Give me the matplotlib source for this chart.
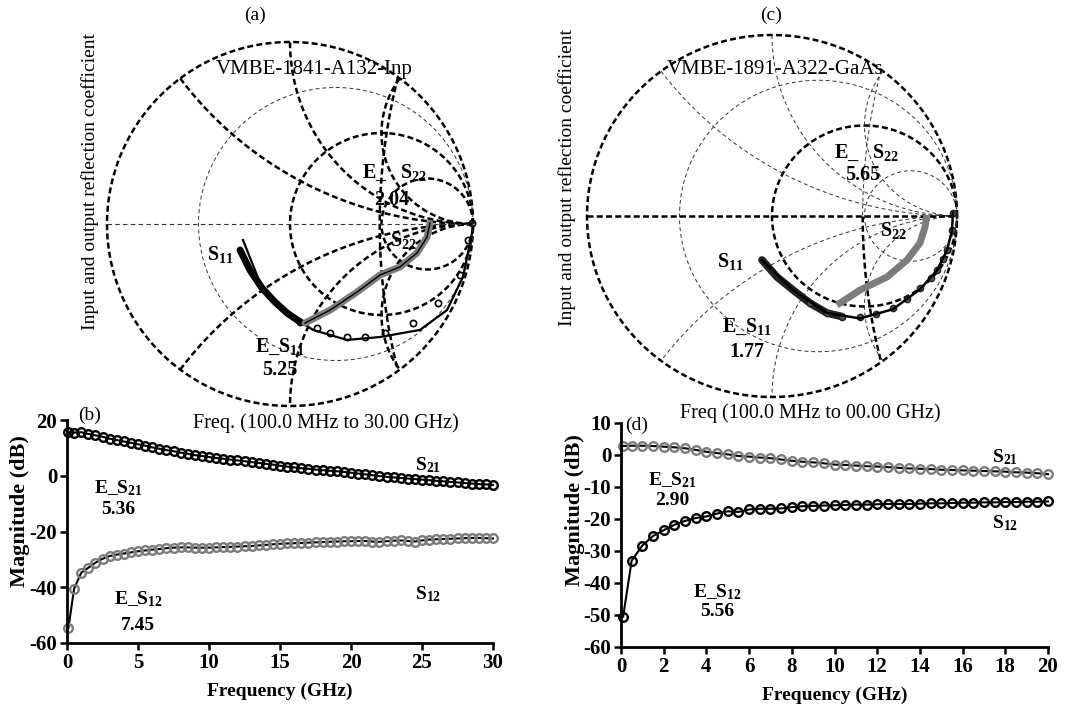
import numpy as np
import matplotlib.pyplot as plt

plt.rcParams['font.family'] = 'serif'
plt.rcParams['font.serif'] = ['Liberation Serif', 'DejaVu Serif']
plt.rcParams['mathtext.fontset'] = 'custom'
plt.rcParams['mathtext.rm'] = 'Liberation Serif'
plt.rcParams['mathtext.bf'] = 'Liberation Serif:bold'
plt.rcParams['mathtext.default'] = 'bf'
plt.rcParams['axes.unicode_minus'] = False

GRAY = '#7c7c7c'

# ---- Smith chart (a): InP device, normalized reflection coefficient ----
s11a_re = [-0.273, -0.219, -0.153, -0.082, -0.016, 0.055, 0.148, 0.219, 0.311, 0.410, 0.519, 0.672, 0.809, 0.929, 0.973, 0.995]
s11a_im = [-0.143, -0.253, -0.352, -0.429, -0.489, -0.538, -0.571, -0.599, -0.621, -0.621, -0.599, -0.544, -0.434, -0.280, -0.088, 0.005]
s11a_fit_re = [-0.257, -0.148, -0.016, 0.126, 0.311, 0.492, 0.710, 0.858, 0.945, 0.995]
s11a_fit_im = [-0.088, -0.363, -0.489, -0.582, -0.637, -0.621, -0.582, -0.473, -0.291, -0.049]
s22a_re = [0.082, 0.219, 0.366, 0.492, 0.601, 0.694, 0.749, 0.765]
s22a_im = [-0.544, -0.473, -0.374, -0.280, -0.236, -0.159, -0.071, 0.005]

# ---- Smith chart (c): GaAs device ----
s11c_re = [-0.054, 0.027, 0.114, 0.205, 0.297, 0.380, 0.476, 0.560, 0.654, 0.730, 0.800, 0.862, 0.892, 0.925, 0.946, 0.973, 0.978]
s11c_im = [-0.243, -0.337, -0.409, -0.481, -0.536, -0.556, -0.558, -0.540, -0.508, -0.460, -0.398, -0.340, -0.298, -0.236, -0.188, -0.077, 0.017]
s11c_fit_re = [-0.054, 0.114, 0.297, 0.476, 0.654, 0.800, 0.892, 0.946, 0.973, 0.978]
s11c_fit_im = [-0.243, -0.409, -0.536, -0.566, -0.515, -0.405, -0.300, -0.190, -0.080, 0.017]
s22c_re = [0.351, 0.476, 0.622, 0.730, 0.800, 0.827, 0.838]
s22c_im = [-0.492, -0.409, -0.337, -0.243, -0.149, -0.061, 0.006]

# ---- (b) magnitude vs frequency, InP ----
freq_b = [0.1] + list(np.arange(0.5, 30.01, 0.5))
s21_b = [15.6, 15.5, 15.6, 15.0, 14.5, 14.0, 13.3, 12.8, 12.3, 11.8, 11.3,
         10.8, 10.2, 9.7, 9.2, 8.8, 8.3, 7.9, 7.4, 7.1, 6.7,
         6.4, 6.1, 5.8, 5.5, 5.2, 4.9, 4.6, 4.3, 4.0, 3.6,
         3.3, 3.0, 2.7, 2.5, 2.2, 2.0, 1.8, 1.6, 1.4, 1.1,
         0.8, 0.5, 0.2, -0.1, -0.4, -0.6, -0.8, -1.0, -1.2, -1.4,
         -1.6, -1.8, -2.0, -2.2, -2.4, -2.6, -2.8, -3.0, -3.1, -3.3]
s12_b = [-54.6, -40.5, -34.8, -33.0, -31.2, -29.8, -28.8, -28.3, -27.9, -27.5, -27.1,
         -26.8, -26.5, -26.3, -26.0, -25.8, -25.7, -25.7, -25.8, -25.8, -25.8,
         -25.7, -25.6, -25.5, -25.4, -25.3, -25.2, -25.0, -24.8, -24.6, -24.4,
         -24.3, -24.2, -24.1, -24.0, -23.9, -23.8, -23.7, -23.6, -23.5, -23.5,
         -23.4, -23.4, -23.6, -23.7, -23.5, -23.3, -23.2, -23.4, -23.6, -23.2,
         -22.9, -22.8, -22.7, -22.6, -22.5, -22.4, -22.3, -22.3, -22.4, -22.5]

# ---- (d) magnitude vs frequency, GaAs ----
freq_d = [0.1] + list(np.arange(0.5, 20.01, 0.5))
s21_d = [2.8, 2.9, 2.9, 2.8, 2.6, 2.4, 2.1, 1.6, 1.0, 0.6, 0.2,
         -0.3, -0.5, -0.8, -1.0, -1.4, -1.8, -2.1, -2.3, -2.6, -3.0,
         -3.1, -3.3, -3.5, -3.6, -3.8, -4.0, -4.2, -4.3, -4.4, -4.6,
         -4.7, -4.8, -4.9, -5.0, -5.1, -5.2, -5.4, -5.5, -5.7, -6.0]
s12_d = [-50.5, -33.0, -28.3, -25.3, -23.5, -21.8, -20.6, -19.7, -19.2, -18.3, -17.6,
         -17.8, -17.0, -16.8, -16.8, -16.7, -16.3, -16.0, -15.9, -15.8, -15.7,
         -15.6, -15.5, -15.5, -15.4, -15.3, -15.3, -15.3, -15.2, -15.1, -15.1,
         -15.0, -14.9, -14.9, -14.8, -14.8, -14.7, -14.7, -14.6, -14.6, -14.5]


def disk_arc(cx, cy, rad, half=None):
    t = np.linspace(0, 2 * np.pi, 4000)
    x = cx + rad * np.cos(t)
    y = cy + rad * np.sin(t)
    keep = x ** 2 + y ** 2 <= 1.0005
    if half == 'upper':
        keep &= y >= 0
    elif half == 'lower':
        keep &= y <= 0
    x[~keep] = np.nan
    y[~keep] = np.nan
    return x, y


def draw_grid(ax, thick, thin, thick_axis):
    for c in thick:
        x, y = disk_arc(*c)
        ax.plot(x, y, color='k', lw=1.8, dashes=(2.4, 1.3), clip_on=False)
    for c in thin:
        x, y = disk_arc(*c)
        ax.plot(x, y, color='#333333', lw=0.7, dashes=(4, 3), clip_on=False)
    if thick_axis:
        ax.plot([-1, 1], [0, 0], color='k', lw=1.8, dashes=(2.4, 1.3))
    else:
        ax.plot([-1, 1], [0, 0], color='#333333', lw=0.8, dashes=(4, 3))
    ax.set_xlim(-1, 1)
    ax.set_ylim(-1, 1)
    ax.axis('off')


fig = plt.figure(figsize=(10.78, 7.08), dpi=100)

# ---------------- (a) ----------------
ax_a = fig.add_axes([107 / 1078, (708 - 406) / 708, 366 / 1078, 364 / 708])
draw_grid(ax_a,
          thick=[(0, 0, 1), (0.5, 0, 0.5), (0.75, 0, 0.25), (1, 2, 2), (1, -2, 2),
                 (1, 1, 1), (1, -1, 1), (1, 0.5, 0.5), (1, -0.5, 0.5), (3.8, 0, 3.31)],
          thin=[(0.25, 0, 0.75)], thick_axis=False)
ax_a.plot(s11a_re[:6], s11a_im[:6], color='k', lw=5, solid_capstyle='round')
ax_a.plot(s11a_re[5:], s11a_im[5:], 'o', mfc='none', mec='k', ms=4.5, mew=1.2, clip_on=False)
ax_a.plot(s11a_fit_re, s11a_fit_im, color='k', lw=1.6, clip_on=False)
ax_a.plot(s22a_re, s22a_im, color=GRAY, lw=5, solid_capstyle='round')
ax_a.plot(s22a_re, s22a_im, color='k', lw=1.0)

title_kw = dict(fontsize=15, ha='center', va='center')
txt = dict(fontsize=14.5, fontweight='bold', ha='center', va='center')
ax_a.text(0.13, 0.85, 'VMBE-1841-A132-Inp', **title_kw)
ax_a.text(0.574, 0.28, 'E_   S$_{22}$', **txt)
ax_a.text(0.557, 0.132, '2.04', **txt)
ax_a.text(-0.38, -0.17, 'S$_{11}$', **txt)
ax_a.text(0.62, -0.09, 'S$_{22}$', **txt)
ax_a.text(-0.055, -0.676, 'E_S$_{11}$', **txt)
ax_a.text(-0.055, -0.80, '5.25', **txt)
fig.text(255 / 1078, 1 - 15 / 708, '(a)', fontsize=14, ha='center', va='center')
fig.text(90 / 1078, 1 - 182 / 708, 'Input and output reflection coefficient', fontsize=14,
         rotation=90, ha='center', va='center')

# ---------------- (c) ----------------
ax_c = fig.add_axes([587 / 1078, (708 - 397) / 708, 370 / 1078, 362 / 708])
draw_grid(ax_c,
          thick=[(0, 0, 1), (0.5, 0, 0.5), (3.8, 0, 3.31, 'lower')],
          thin=[(0.25, 0, 0.75), (0.75, 0, 0.25), (1, 2, 2), (1, -2, 2), (1, 1, 1), (1, -1, 1),
                (1, 0.5, 0.5), (1, -0.5, 0.5), (3.8, 0, 3.31, 'upper')],
          thick_axis=True)
ax_c.plot(s11c_re[:6], s11c_im[:6], color='#222222', lw=5.5, solid_capstyle='round')
ax_c.plot(s11c_re[3:], s11c_im[3:], 'o', mfc='#555555', mec='#222222', ms=4.5, mew=1.0, clip_on=False)
ax_c.plot(s11c_fit_re, s11c_fit_im, color='k', lw=1.8, clip_on=False)
ax_c.plot(s22c_re, s22c_im, color=GRAY, lw=5, solid_capstyle='butt')

ax_c.text(0.016, 0.81, 'VMBE-1891-A322-GaAs', **title_kw)
ax_c.text(0.514, 0.348, 'E_   S$_{22}$', **txt)
ax_c.text(0.49, 0.227, '5.65', **txt)
ax_c.text(0.654, -0.08, 'S$_{22}$', **txt)
ax_c.text(-0.227, -0.254, 'S$_{11}$', **txt)
ax_c.text(-0.135, -0.613, 'E_S$_{11}$', **txt)
ax_c.text(-0.135, -0.75, '1.77', **txt)
fig.text(771 / 1078, 1 - 15 / 708, '(c)', fontsize=14, ha='center', va='center')
fig.text(567 / 1078, 1 - 177 / 708, 'Input and output reflection coefficient', fontsize=14,
         rotation=90, ha='center', va='center')


def style_mag(ax, ylab_xy):
    for s in ('top', 'right'):
        ax.spines[s].set_visible(False)
    for s in ('left', 'bottom'):
        ax.spines[s].set_linewidth(2.0)
    ax.tick_params(direction='out', length=5, width=1.8, labelsize=15, pad=2)
    for lbl in ax.get_xticklabels() + ax.get_yticklabels():
        lbl.set_fontweight('bold')
    ax.set_xlabel('Frequency (GHz)', fontsize=14, fontweight='bold', labelpad=7)
    ax.set_ylabel('Magnitude (dB)', fontsize=16, fontweight='bold')
    ax.yaxis.set_label_coords(*ylab_xy)


# ---------------- (b) ----------------
ax_b = fig.add_axes([67 / 1078, (708 - 643) / 708, 426 / 1078, 223 / 708])
ax_b.plot(freq_b, s21_b, color='k', lw=1.5, clip_on=False)
ax_b.plot(freq_b, s21_b, 'o', mfc='none', mec='k', ms=6.2, mew=1.7, clip_on=False)
ax_b.plot(freq_b, s12_b, color='k', lw=1.5, clip_on=False)
ax_b.plot(freq_b, s12_b, 'o', mfc='none', mec=GRAY, ms=6.2, mew=1.7, clip_on=False)
ax_b.set_xlim(0, 30)
ax_b.set_ylim(-60, 20)
ax_b.set_xticks(np.arange(0, 31, 5))
ax_b.set_yticks(np.arange(-60, 21, 20))
style_mag(ax_b, (-0.088, 0.59))
t2 = dict(fontsize=14, fontweight='bold', ha='center', va='center')
ax_b.text(1.6, 21.8, '(b)', fontsize=14, ha='center', va='center')
ax_b.text(18.2, 18.9, 'Freq. (100.0 MHz to 30.00 GHz)', fontsize=14.5, ha='center', va='center')
ax_b.text(25.4, 3.9, 'S$_{21}$', **t2)
ax_b.text(3.6, -4.3, 'E_S$_{21}$', **t2)
ax_b.text(3.6, -12.1, '5.36', **t2)
ax_b.text(5.0, -44.3, 'E_S$_{12}$', **t2)
ax_b.text(5.0, -53.9, '7.45', **t2)
ax_b.text(25.4, -42.5, 'S$_{12}$', **t2)

# ---------------- (d) ----------------
ax_d = fig.add_axes([621 / 1078, (708 - 647) / 708, 427 / 1078, 224 / 708])
ax_d.plot(freq_d, s21_d, color='k', lw=1.5, clip_on=False)
ax_d.plot(freq_d, s21_d, 'o', mfc='none', mec=GRAY, ms=6.2, mew=1.7, clip_on=False)
ax_d.plot(freq_d, s12_d, color='k', lw=1.5, clip_on=False)
ax_d.plot(freq_d, s12_d, 'o', mfc='none', mec='k', ms=6.2, mew=1.7, clip_on=False)
ax_d.set_xlim(0, 20)
ax_d.set_ylim(-60, 10)
ax_d.set_xticks(np.arange(0, 21, 2))
ax_d.set_yticks(np.arange(-60, 11, 10))
style_mag(ax_d, (-0.084, 0.61))
ax_d.text(0.75, 9.4, '(d)', fontsize=14, ha='center', va='center')
ax_d.text(8.85, 13.1, 'Freq (100.0 MHz to 00.00 GHz)', fontsize=14.5, ha='center', va='center')
ax_d.text(18.0, -0.6, 'S$_{21}$', **t2)
ax_d.text(2.4, -7.8, 'E_S$_{21}$', **t2)
ax_d.text(2.4, -14.1, '2.90', **t2)
ax_d.text(4.5, -42.8, 'E_S$_{12}$', **t2)
ax_d.text(4.5, -49.0, '5.56', **t2)
ax_d.text(18.0, -21.3, 'S$_{12}$', **t2)

fig.savefig('out.png', dpi=100)
